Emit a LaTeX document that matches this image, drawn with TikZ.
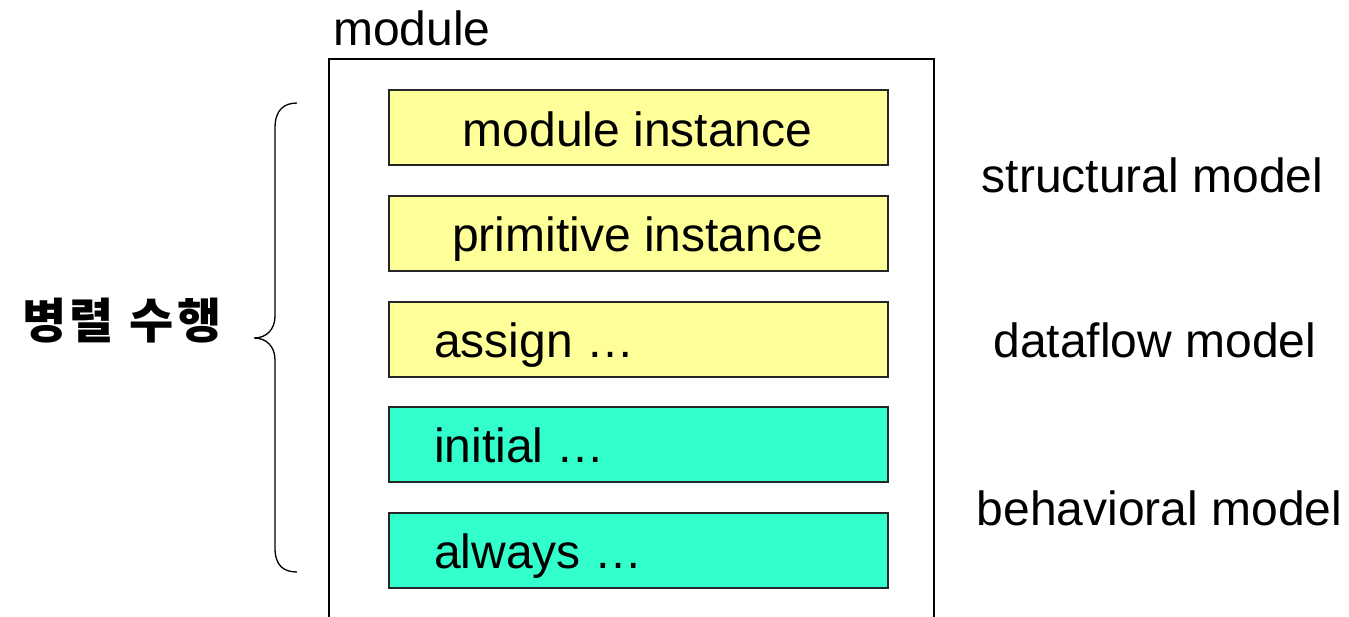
\documentclass[tikz,border=0pt]{standalone}
\usepackage{fontspec}
\setmainfont{Liberation Sans}
\newfontfamily\krfont{Noto Sans CJK KR}
\begin{document}
\begin{tikzpicture}[x=1pt,y=-1pt,
  txt/.style={inner sep=0pt,font=\fontsize{48}{56}\selectfont},
  blockbox/.style={draw=black!85,line width=1.5pt,minimum width=499pt,minimum height=75pt,inner sep=0pt,anchor=north west},
  structbox/.style={blockbox,fill=yellow99},
  behavbox/.style={blockbox,fill=tealcc},
]
\definecolor{yellow99}{HTML}{FFFF99}
\definecolor{tealcc}{HTML}{33FFCC}
\clip (0,0) rectangle (1349,616);
\useasboundingbox (0,0) rectangle (1349,616);

% outer module frame (runs past the bottom edge)
\node[draw=black,line width=1.5pt,minimum width=605pt,minimum height=600pt,inner sep=0pt,anchor=north west] (mod) at (328,58) {};
\node[txt,anchor=base west] (modlabel) at (333,45) {module};

% statement blocks
\node[structbox] (b1) at (388,89) {};
\node[structbox] (b2) at (388,195) {};
\node[structbox] (b3) at (388,301) {};
\node[behavbox] (b4) at (388,406) {};
\node[behavbox] (b5) at (388,512) {};

\node[txt,anchor=base] (t1) at (637.5,146) {module instance};
\node[txt,anchor=base] (t2) at (637.5,251) {primitive instance};
\node[txt,anchor=base west] (t3) at (434,357) {assign …};
\node[txt,anchor=base west] (t4) at (434,462) {initial …};
\node[txt,anchor=base west] (t5) at (434,568) {always …};

% model categories
\node[txt,anchor=base] (m1) at (1152.5,192) {structural model};
\node[txt,anchor=base] (m2) at (1155,357) {dataflow model};
\node[txt,anchor=base] (m3) at (1159.5,525) {behavioral model};

% concurrent execution brace
\node[inner sep=0pt,font=\krfont\bfseries\fontsize{48}{56}\selectfont] (conc) at (122,321) {병\kern3pt 렬\kern16pt 수\kern3pt 행};
\draw[line width=1.3pt]
  (297,103) .. controls (284,103) and (275,110) .. (275,128)
  -- (275,316) .. controls (275,330) and (266,338) .. (254,338)
  .. controls (266,338) and (275,346) .. (275,360)
  -- (275,548) .. controls (275,566) and (284,572) .. (297,572);
\end{tikzpicture}
\end{document}
